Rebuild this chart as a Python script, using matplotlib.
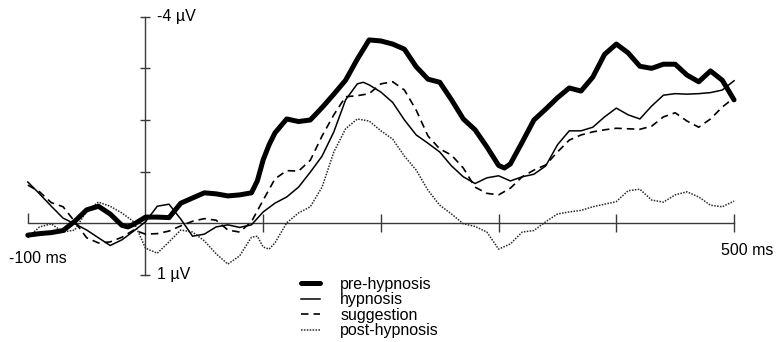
import matplotlib
matplotlib.use("Agg")
import matplotlib.pyplot as plt
from matplotlib.ticker import FixedLocator, NullFormatter

plt.rcParams['font.family'] = ['Liberation Sans', 'DejaVu Sans']

# ---- data (time in ms, amplitude in µV; negative plotted upward) ----
t_pre = [-100, -90, -80, -70, -60, -50, -40, -30, -20, -15, -10, 0, 10, 20, 30, 40, 50, 60, 70, 80,
         90, 95, 100, 105, 110, 120, 130, 140, 150, 160, 170, 180, 190, 200, 210, 220, 230, 240, 250,
         260, 270, 280, 290, 300, 305, 310, 320, 330, 340, 350, 360, 370, 380, 390, 400, 410, 420,
         430, 440, 450, 460, 470, 480, 490, 500]
v_pre = [0.23, 0.20, 0.18, 0.14, -0.04, -0.26, -0.33, -0.18, 0.04, 0.07, 0.02, -0.12, -0.12, -0.11,
         -0.39, -0.49, -0.59, -0.57, -0.53, -0.55, -0.59, -0.82, -1.23, -1.52, -1.75, -2.02, -1.97,
         -2.00, -2.24, -2.50, -2.77, -3.18, -3.55, -3.53, -3.47, -3.37, -3.03, -2.79, -2.73, -2.39,
         -2.02, -1.81, -1.48, -1.12, -1.07, -1.15, -1.57, -2.00, -2.21, -2.43, -2.62, -2.56, -2.83,
         -3.27, -3.47, -3.30, -3.04, -3.00, -3.08, -3.08, -2.87, -2.74, -2.95, -2.77, -2.39]

t_hyp = [-100, -90, -80, -70, -60, -50, -40, -30, -20, -10, 0, 10, 20, 30, 40, 50, 60, 70, 80, 90,
         100, 110, 120, 130, 140, 150, 160, 170, 180, 185, 190, 200, 210, 220, 230, 240, 250, 260,
         270, 280, 290, 300, 310, 320, 330, 340, 350, 360, 370, 380, 390, 400, 410, 420, 430, 440,
         450, 460, 470, 480, 490, 500]
v_hyp = [-0.80, -0.57, -0.33, -0.10, 0.01, 0.13, 0.28, 0.43, 0.32, 0.15, -0.03, -0.33, -0.37, -0.08,
         0.25, 0.21, 0.07, 0.03, 0.08, 0.03, -0.22, -0.39, -0.51, -0.70, -0.99, -1.30, -1.77, -2.39,
         -2.70, -2.73, -2.68, -2.54, -2.34, -2.00, -1.71, -1.55, -1.38, -1.11, -0.90, -0.77, -0.88,
         -0.92, -0.82, -0.90, -0.95, -1.11, -1.52, -1.79, -1.79, -1.86, -2.06, -2.23, -2.10, -2.02,
         -2.27, -2.48, -2.51, -2.50, -2.51, -2.53, -2.58, -2.76]

t_sug = [-100, -90, -80, -70, -60, -50, -40, -30, -20, -10, 0, 10, 20, 30, 40, 50, 60, 70, 80, 90,
         100, 110, 120, 130, 140, 150, 160, 170, 180, 190, 200, 210, 220, 230, 240, 250, 260, 270,
         280, 290, 300, 310, 320, 330, 340, 350, 360, 370, 380, 390, 400, 410, 420, 430, 440, 450,
         460, 470, 480, 490, 500]
v_sug = [-0.74, -0.61, -0.40, -0.32, -0.03, 0.28, 0.38, 0.36, 0.27, 0.13, 0.21, 0.20, 0.15, 0.05,
         -0.04, -0.09, -0.06, 0.13, 0.17, -0.03, -0.45, -0.86, -1.02, -1.01, -1.22, -1.69, -2.10,
         -2.45, -2.47, -2.51, -2.70, -2.74, -2.58, -2.19, -1.69, -1.44, -1.32, -1.07, -0.70, -0.58,
         -0.55, -0.68, -0.90, -1.03, -1.13, -1.38, -1.61, -1.71, -1.77, -1.81, -1.84, -1.83, -1.82,
         -1.88, -2.06, -2.14, -1.98, -1.86, -2.02, -2.25, -2.43]

t_post = [-100, -90, -80, -70, -60, -50, -40, -30, -20, -10, 0, 10, 20, 30, 40, 50, 60, 70, 80, 90,
          95, 100, 105, 110, 120, 130, 140, 150, 160, 170, 180, 190, 200, 210, 220, 230, 240, 250,
          260, 270, 280, 290, 300, 310, 320, 330, 340, 350, 360, 370, 380, 390, 400, 410, 420, 430,
          440, 450, 460, 470, 480, 490, 500]
v_post = [0.28, 0.07, 0.01, 0.17, 0.13, -0.24, -0.41, -0.33, -0.20, -0.03, 0.48, 0.58, 0.36, 0.13,
          0.17, 0.34, 0.59, 0.79, 0.63, 0.27, 0.25, 0.46, 0.50, 0.38, -0.01, -0.20, -0.32, -0.70,
          -1.38, -1.83, -2.02, -1.98, -1.79, -1.63, -1.30, -1.03, -0.64, -0.35, -0.18, 0.01, 0.06,
          0.17, 0.50, 0.40, 0.17, 0.14, -0.03, -0.18, -0.22, -0.25, -0.32, -0.37, -0.42, -0.63,
          -0.66, -0.45, -0.41, -0.55, -0.61, -0.51, -0.35, -0.32, -0.43]

labels = ['pre-hypnosis', 'hypnosis', 'suggestion', 'post-hypnosis']
x_ticks = [100, 200, 300, 400, 500]
y_ticks = [-4, -3, -2, -1, 1]

# ---- figure ----
fig = plt.figure(figsize=(7.79, 3.42), dpi=100)
ax = fig.add_axes([0, 0, 1, 1])
ax.set_facecolor('none')
ax.set_xlim(-123.6, 538.2)
ax.set_ylim(2.298, -4.323)

axis_col = '#3a3a3a'
for s in ['top', 'right']:
    ax.spines[s].set_visible(False)
ax.spines['left'].set_position(('data', 0))
ax.spines['bottom'].set_position(('data', 0))
ax.spines['left'].set_bounds(-4, 1)
ax.spines['bottom'].set_bounds(-100, 500)
for s in ['left', 'bottom']:
    ax.spines[s].set_color(axis_col)
    ax.spines[s].set_linewidth(1.0)

ax.xaxis.set_major_locator(FixedLocator(x_ticks))
ax.xaxis.set_minor_locator(FixedLocator([-100]))
ax.yaxis.set_major_locator(FixedLocator(y_ticks))
ax.xaxis.set_major_formatter(NullFormatter())
ax.yaxis.set_major_formatter(NullFormatter())
ax.tick_params(axis='x', which='major', direction='inout', length=13, width=1.0, color=axis_col)
ax.tick_params(axis='x', which='minor', direction='in', length=7, width=1.0, color=axis_col)
ax.tick_params(axis='y', which='major', direction='inout', length=7.5, width=1.0, color=axis_col)

ax.plot(t_post, v_post, color='#2a2a2a', lw=1.1, linestyle=(0, (1, 0.9)), label=labels[3], zorder=3)
ax.plot(t_sug, v_sug, color='black', lw=1.2, linestyle=(0, (4.5, 3.0)), label=labels[2], zorder=4)
ax.plot(t_hyp, v_hyp, color='black', lw=1.1, label=labels[1], zorder=5, solid_joinstyle='round')
ax.plot(t_pre, v_pre, color='black', lw=3.6, label=labels[0], zorder=6,
        solid_joinstyle='round', solid_capstyle='round')

fs = 11.5
ax.text(10, -4, '-4 µV', fontsize=fs, ha='left', va='center')
ax.text(10, 1, '1 µV', fontsize=fs, ha='left', va='center')
ax.text(-91.3, 0.68, '-100 ms', fontsize=fs, ha='center', va='center')
ax.text(511.5, 0.52, '500 ms', fontsize=fs, ha='center', va='center')

handles, labs = ax.get_legend_handles_labels()
order = [labs.index(l) for l in labels]
leg = ax.legend([handles[i] for i in order], [labs[i] for i in order],
                loc='upper left', bbox_to_anchor=(301 / 779, 1 - 277 / 342),
                bbox_transform=fig.transFigure, frameon=False, fontsize=fs,
                handlelength=1.2, handletextpad=1.25, labelspacing=0.03,
                borderpad=0, borderaxespad=0)

fig.savefig('out.png', dpi=100)
